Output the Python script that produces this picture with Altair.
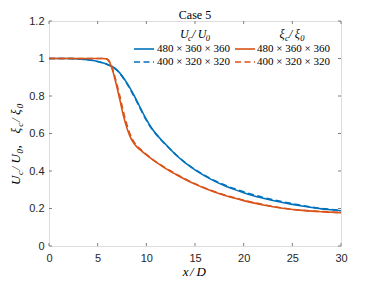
import altair as alt
import pandas as pd

# ---------------- data ----------------
x_blue = [0, 1, 2, 3, 4, 5, 5.5, 6, 6.5, 7, 7.5, 8, 8.5, 9, 9.5, 10, 10.5, 11, 11.5, 12,
          13, 14, 15, 16, 17, 18, 19, 20, 21, 22, 23, 24, 25, 26, 27, 28, 29, 30]
uc_480 = [1, 1, 1, 0.998, 0.993, 0.984, 0.977, 0.968, 0.957, 0.938, 0.908, 0.87, 0.826, 0.777,
          0.725, 0.675, 0.632, 0.598, 0.568, 0.541, 0.488, 0.443, 0.406, 0.374, 0.346, 0.323,
          0.302, 0.284, 0.268, 0.255, 0.243, 0.232, 0.222, 0.213, 0.205, 0.198, 0.193, 0.188]
uc_400 = [1, 1, 1, 0.998, 0.993, 0.984, 0.977, 0.968, 0.956, 0.936, 0.905, 0.866, 0.821, 0.772,
          0.72, 0.671, 0.629, 0.596, 0.567, 0.54, 0.489, 0.445, 0.408, 0.377, 0.349, 0.327,
          0.306, 0.289, 0.273, 0.259, 0.247, 0.236, 0.226, 0.216, 0.207, 0.2, 0.195, 0.19]

x_orange = [0, 1, 2, 3, 4, 5, 5.5, 5.8, 6, 6.2, 6.4, 6.6, 6.8, 7, 7.3, 7.6, 8, 8.3, 8.6, 9, 9.5, 10,
            11, 12, 13, 14, 15, 16, 17, 18, 19, 20, 21, 22, 23, 24, 25, 26, 27, 28, 29, 30]
xi_480 = [1, 1, 1, 1, 1, 1, 1, 0.999, 0.995, 0.982, 0.958, 0.925, 0.885, 0.843, 0.775, 0.705,
          0.63, 0.587, 0.557, 0.53, 0.507, 0.486, 0.447, 0.413, 0.383, 0.355, 0.33, 0.308, 0.288,
          0.271, 0.256, 0.242, 0.23, 0.219, 0.209, 0.201, 0.195, 0.19, 0.186, 0.183, 0.18, 0.178]
xi_400 = [1, 1, 1, 1, 1, 1, 1, 0.999, 0.996, 0.985, 0.963, 0.933, 0.896, 0.857, 0.795, 0.725,
          0.648, 0.6, 0.566, 0.536, 0.511, 0.489, 0.449, 0.415, 0.385, 0.357, 0.332, 0.31, 0.29,
          0.273, 0.258, 0.244, 0.232, 0.221, 0.211, 0.203, 0.196, 0.191, 0.187, 0.184, 0.181, 0.179]

x_ticks = [0, 5, 10, 15, 20, 25, 30]
y_ticks = [0, 0.2, 0.4, 0.6, 0.8, 1.0, 1.2]

title_text = "Case 5"
grid_labels = ["480 \u00d7 360 \u00d7 360", "400 \u00d7 320 \u00d7 320"]

BLUE = "#0072BD"
ORANGE = "#D95319"
AXC = "#808080"
W, H = 292, 225

# ---------------- scales / axes ----------------
xs = alt.Scale(domain=[0, 30], nice=False, zero=False)
ys = alt.Scale(domain=[0, 1.2], nice=False, zero=False)
xax = alt.Axis(values=x_ticks, domain=False, ticks=False, grid=False, title=None,
               labelFont="Liberation Sans", labelFontSize=11, labelColor="#262626",
               labelPadding=6, labelFlush=False)
yax = alt.Axis(values=y_ticks, domain=False, ticks=False, grid=False, title=None, format="~g",
               labelFont="Liberation Sans", labelFontSize=11, labelColor="#262626",
               labelPadding=5, labelFlush=False)


def X(f):
    return alt.X(f, type="quantitative", scale=xs, axis=xax)


def Y(f):
    return alt.Y(f, type="quantitative", scale=ys, axis=yax)


def line(xv, yv, color, dash):
    df = pd.DataFrame({"x": xv, "y": yv})
    kw = dict(color=color, strokeWidth=1.6, interpolate="monotone")
    if dash:
        kw["strokeDash"] = [6, 3.5]
    return alt.Chart(df).mark_line(**kw).encode(x=X("x"), y=Y("y"))


lines = [
    line(x_blue, uc_480, BLUE, False),
    line(x_blue, uc_400, BLUE, True),
    line(x_orange, xi_480, ORANGE, False),
    line(x_orange, xi_400, ORANGE, True),
]

# inward ticks (MATLAB style)
xt = pd.DataFrame({"v": x_ticks})
yt = pd.DataFrame({"v": y_ticks})
tk = dict(color=AXC, strokeWidth=1)
ticks = [
    alt.Chart(xt).mark_rule(**tk).encode(x=X("v"), y=alt.value(H), y2=alt.value(H - 3)),
    alt.Chart(xt).mark_rule(**tk).encode(x=X("v"), y=alt.value(0), y2=alt.value(3)),
    alt.Chart(yt).mark_rule(**tk).encode(y=Y("v"), x=alt.value(0), x2=alt.value(3)),
    alt.Chart(yt).mark_rule(**tk).encode(y=Y("v"), x=alt.value(W), x2=alt.value(W - 3)),
]

# ---------------- text layout helpers ----------------
def lay_h(pieces, cx, base_y, fs, sfs, unit, sub_drop):
    total = sum(p[2] for p in pieces) * unit
    pos = cx - total / 2
    rows = []
    for t, sub, adv in pieces:
        rows.append({"px": pos, "py": base_y + (sub_drop if sub else 0), "t": t,
                     "fs": sfs if sub else fs, "ang": 0})
        pos += adv * unit
    return rows


def lay_v(pieces, base_x, cy, fs, sfs, unit, sub_drop):
    total = sum(p[2] for p in pieces) * unit
    pos = cy + total / 2
    rows = []
    for t, sub, adv in pieces:
        rows.append({"px": base_x + (sub_drop if sub else 0), "py": pos, "t": t,
                     "fs": sfs if sub else fs, "ang": 270})
        pos -= adv * unit
    return rows


U_pieces = [("U", False, 0.72), ("c", True, 0.35), ("/", False, 0.5), ("U", False, 0.72), ("0", True, 0.38)]
XI_pieces = [("\u03be", False, 0.5), ("c", True, 0.35), ("/", False, 0.5), ("\u03be", False, 0.5), ("0", True, 0.38)]
Y_pieces = U_pieces + [(",", False, 1.08)] + XI_pieces
X_pieces = [("x", False, 0.57), ("/", False, 0.5), ("D", False, 0.83)]

math_rows = []
math_rows += lay_h(U_pieces, 146, 17, 12, 8.5, 11.2, 3)
math_rows += lay_h(XI_pieces, 243, 17, 12, 8.5, 11.2, 3)
math_rows += lay_h(X_pieces, 146, 255, 13, 9, 13, 0)
math_rows += lay_v(Y_pieces, -29, 123, 13, 9, 13.7, 3)
math_df = pd.DataFrame(math_rows)

math_text = alt.Chart(math_df).mark_text(
    font="Liberation Serif", fontStyle="italic", align="left", baseline="alphabetic", color="#000000"
).encode(
    x=alt.X("px:Q", scale=None), y=alt.Y("py:Q", scale=None), text="t:N",
    size=alt.Size("fs:Q", scale=None), angle=alt.Angle("ang:Q", scale=None),
)

# legend entries
leg_df = pd.DataFrame({
    "px": [108, 108, 208, 208],
    "py": [28, 41, 28, 41],
    "t": [grid_labels[0], grid_labels[1], grid_labels[0], grid_labels[1]],
})
leg_text = alt.Chart(leg_df).mark_text(
    font="Liberation Serif", fontSize=11, align="left", baseline="middle", color="#000000"
).encode(x=alt.X("px:Q", scale=None), y=alt.Y("py:Q", scale=None), text="t:N")

one = pd.DataFrame({"a": [0]})


def leg_line(x1, x2, y, color, dash):
    kw = dict(color=color, strokeWidth=1.6)
    if dash:
        kw["strokeDash"] = [6, 3.5]
    return alt.Chart(one).mark_rule(**kw).encode(x=alt.value(x1), x2=alt.value(x2), y=alt.value(y))


leg_lines = [
    leg_line(85, 105, 28, BLUE, False),
    leg_line(85, 105, 41, BLUE, True),
    leg_line(186, 206, 28, ORANGE, False),
    leg_line(186, 206, 41, ORANGE, True),
]

title = alt.Chart(pd.DataFrame({"t": [title_text]})).mark_text(
    font="Liberation Serif", fontSize=12, align="center", baseline="middle", color="#000000"
).encode(x=alt.value(W / 2), y=alt.value(-6.5), text="t:N")

chart = alt.layer(*ticks, *lines, *leg_lines, leg_text, math_text, title).properties(
    width=W, height=H,
    padding={"left": 41, "top": 13, "right": 27, "bottom": 36},
    autosize=alt.AutoSizeParams(type="none"),
).configure_view(stroke=AXC, strokeWidth=1).configure(background="white")

chart.save("out.html", embed_options={"renderer": "svg", "actions": False})
